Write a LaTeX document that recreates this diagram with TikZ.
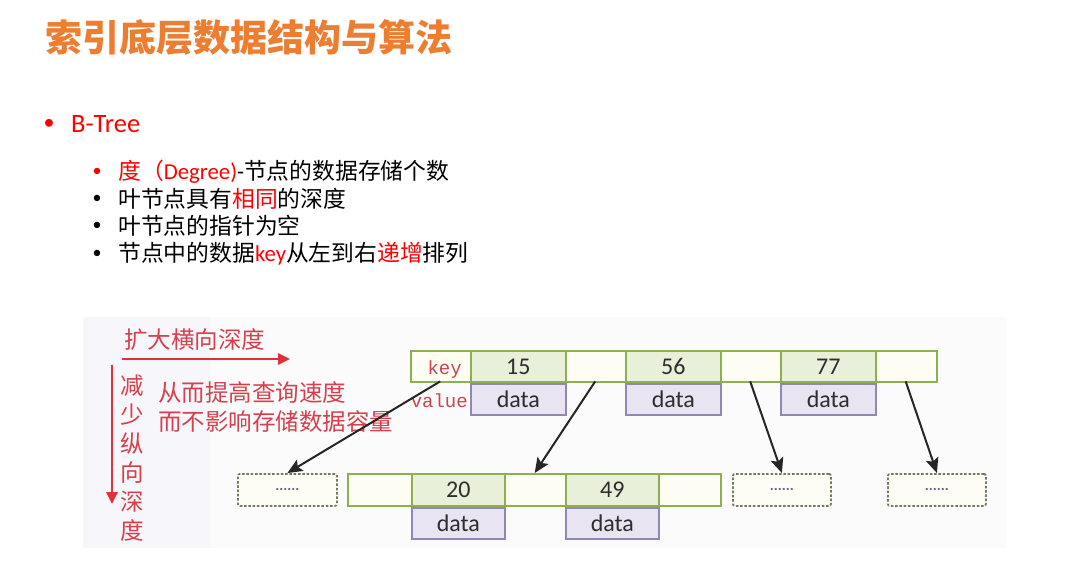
\documentclass[tikz,border=0pt]{standalone}
\usepackage{fontspec}
\setmainfont{Carlito}
\setmonofont{Liberation Mono}
\newfontfamily\cjk{Noto Sans CJK SC}
\usetikzlibrary{arrows.meta}
\definecolor{titleor}{RGB}{237,125,49}
\definecolor{bred}{RGB}{255,0,0}
\definecolor{dred}{RGB}{212,64,78}
\definecolor{ared}{RGB}{226,48,56}
\definecolor{gborder}{RGB}{140,175,80}
\definecolor{gfill}{RGB}{232,240,218}
\definecolor{ofill}{RGB}{253,253,243}
\definecolor{pborder}{RGB}{145,135,180}
\definecolor{pfill}{RGB}{232,228,242}
\definecolor{numgray}{RGB}{45,45,45}
\definecolor{dgray}{RGB}{115,120,95}
\definecolor{dfill}{RGB}{253,253,245}
\definecolor{dottxt}{RGB}{100,100,140}
\definecolor{bgR}{RGB}{251,251,251}
\definecolor{bgL}{RGB}{247,246,250}
\definecolor{keyred}{RGB}{200,70,80}
\begin{document}
\begin{tikzpicture}[x=1pt,y=-1pt,
  outer/.style={draw=gborder, fill=ofill, line width=1.8pt, inner sep=0pt, anchor=north west},
  keycell/.style={draw=gborder, fill=gfill, line width=1.8pt, minimum width=95pt, minimum height=31pt, inner sep=0pt, anchor=north west, font=\fontsize{24}{24}\selectfont, text=numgray},
  ptrcell/.style={minimum height=31pt, inner sep=0pt, anchor=north west},
  datacell/.style={draw=pborder, fill=pfill, line width=1.8pt, minimum width=95pt, minimum height=31pt, inner sep=0pt, anchor=north west, font=\fontsize{24}{24}\selectfont, text=numgray},
  dotbox/.style={draw=dgray, fill=dfill, line width=1.8pt, dash pattern=on 2.5pt off 1.8pt, rounded corners=2pt, minimum width=98pt, minimum height=32pt, inner sep=0pt, anchor=north west, font=\bfseries\fontsize{15}{15}\selectfont, text=dottxt},
  ptr/.style={draw=black!85, line width=2pt, -{Stealth[length=15pt,width=13pt,inset=3pt]}},
  redarrow/.style={draw=ared, line width=2.8pt, -{Triangle[length=12pt,width=11pt]}},
  redtxt/.style={text=dred, inner sep=0pt, font=\cjk\fontsize{23.5}{29}\selectfont},
  bodytxt/.style={inner sep=0pt, anchor=west, font=\fontsize{22.8}{22.8}\selectfont}
]
\useasboundingbox[fill=white] (0,0) rectangle (1080,580);
% background of pasted figure
\fill[bgR] (83,317) rectangle (1007,548);
\fill[bgL] (83,317) rectangle (210,548);

% title and bullets
\node[inner sep=0pt, anchor=west, text=titleor, font=\cjk\bfseries\fontsize{37}{37}\selectfont] (title) at (45,37) {索引底层数据结构与算法};
\node[inner sep=0pt, text=bred, font=\fontsize{22}{22}\selectfont] (b0) at (49,124) {•};
\node[inner sep=0pt, anchor=west, text=bred, font=\fontsize{26.5}{26.5}\selectfont] (btree) at (71,124) {B-Tree};

\node[inner sep=0pt, text=bred, font=\fontsize{18}{18}\selectfont] (b1) at (97,172) {•};
\node[inner sep=0pt, font=\fontsize{18}{18}\selectfont] (b2) at (97,199) {•};
\node[inner sep=0pt, font=\fontsize{18}{18}\selectfont] (b3) at (97,226) {•};
\node[inner sep=0pt, font=\fontsize{18}{18}\selectfont] (b4) at (97,254) {•};
\node[bodytxt] (l1) at (118,172) {\textcolor{bred}{{\cjk 度（}Degree)}-{\cjk 节点的数据存储个数}};
\node[bodytxt] (l2) at (118,199) {\cjk 叶节点具有\textcolor{bred}{相同}的深度};
\node[bodytxt] (l3) at (118,226) {\cjk 叶节点的指针为空};
\node[bodytxt] (l4) at (118,254) {{\cjk 节点中的数据}\textcolor{bred}{key}{\cjk 从左到右\textcolor{bred}{递增}排列}};

% red annotations
\node[redtxt, anchor=west] (hx) at (124,340) {扩大横向深度};
\coordinate (ha) at (122,359);
\coordinate (hb) at (290,359);
\draw[redarrow] (ha) -- (hb);
\coordinate (va) at (112,365);
\coordinate (vb) at (112,504);
\draw[redarrow] (va) -- (vb);
\node[redtxt, anchor=north, align=center] (vx) at (132,375) {减\\少\\纵\\向\\深\\度};
\node[redtxt, anchor=north west, align=left] (ex) at (158,381) {从而提高查询速度\\而不影响存储数据容量};

% top node
\node[outer, minimum width=526pt, minimum height=31pt] (topn) at (410,350) {};
\node[ptrcell, minimum width=60pt] (p0) at (410,350) {};
\node[keycell] (k1) at (470,350) {15};
\node[ptrcell, minimum width=60pt] (p1) at (565,350) {};
\node[keycell] (k2) at (625,350) {56};
\node[ptrcell, minimum width=60pt] (p2) at (720,350) {};
\node[keycell] (k3) at (780,350) {77};
\node[ptrcell, minimum width=61pt] (p3) at (875,350) {};
\node[datacell] (d1) at (k1.south west) {data};
\node[datacell] (d2) at (k2.south west) {data};
\node[datacell] (d3) at (k3.south west) {data};
\node[inner sep=0pt, anchor=east, text=keyred, font=\ttfamily\fontsize{19}{19}\selectfont] (keyl) at (462,370) {key};
\node[inner sep=0pt, anchor=east, text=keyred, font=\ttfamily\fontsize{19}{19}\selectfont] (vall) at (468,401) {value};

% bottom middle node
\node[outer, minimum width=373pt, minimum height=32pt] (botn) at (347,473) {};
\node[ptrcell, minimum width=64pt] (q0) at (347,473) {};
\node[keycell, minimum width=93pt, minimum height=32pt] (m1) at (411,473) {20};
\node[ptrcell, minimum width=61pt] (q1) at (504,473) {};
\node[keycell, minimum width=93pt, minimum height=32pt] (m2) at (565,473) {49};
\node[ptrcell, minimum width=62pt] (q2) at (658,473) {};
\node[datacell, minimum width=93pt] (e1) at (m1.south west) {data};
\node[datacell, minimum width=93pt] (e2) at (m2.south west) {data};

% dotted placeholder nodes
\node[dotbox, minimum width=99pt] (c0) at (237,473) {......};
\node[dotbox] (c2) at (732,473) {......};
\node[dotbox] (c3) at (887,473) {......};

% pointers
\draw[ptr] (p0.south) -- (c0.north);
\draw[ptr] (p1.south) -- (q1.north);
\draw[ptr] (p2.south) -- (c2.north);
\draw[ptr] (p3.south) -- (c3.north);
\end{tikzpicture}
\end{document}
